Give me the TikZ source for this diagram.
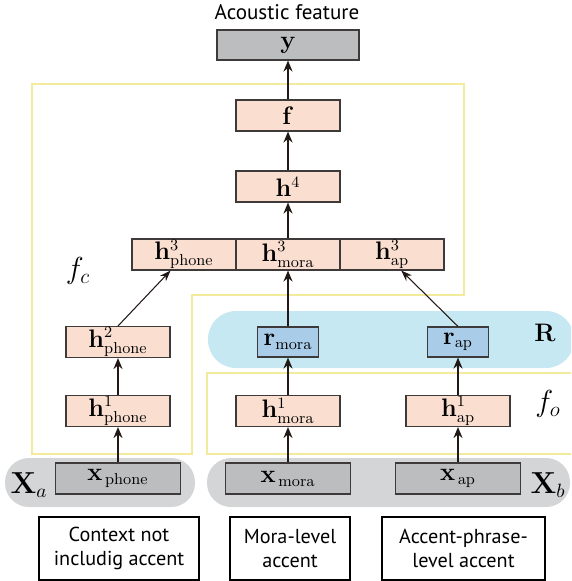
\documentclass[tikz,border=0pt]{standalone}
\usepackage{amssymb}
\usepackage[no-math]{fontspec}
\usepackage{tikz}
\usepackage{xcolor}
\usetikzlibrary{
    arrows.meta,
    positioning
}
\newfontfamily\gothic{PT Sans}
\definecolor{pinkfill}{HTML}{FADFD0}
\definecolor{bluefill}{HTML}{A9CDE9}
\definecolor{regionblue}{HTML}{C6E8F2}
\definecolor{regiongray}{HTML}{D4D5D7}
\definecolor{xgray}{HTML}{BCBDBF}
\definecolor{fyellow}{HTML}{F2EB9B}
\definecolor{boxline}{HTML}{3E3A39}
\definecolor{arrowline}{HTML}{231815}

\begin{document}
\begin{tikzpicture}[x=0.02cm, y=-0.02cm,
    every node/.style={font=\fontsize{13.5}{16}\selectfont, inner sep=0pt},
    pinkbox/.style={draw=boxline, fill=pinkfill, line width=0.6pt, minimum width=2.08cm, minimum height=0.62cm},
    bluebox/.style={draw=boxline, fill=bluefill, line width=0.6pt, minimum width=1.22cm, minimum height=0.6cm},
    graybox/.style={draw=boxline, fill=xgray, line width=0.6pt, minimum width=2.5cm, minimum height=0.62cm},
    textbox/.style={draw=black, line width=0.6pt, minimum height=1.26cm, align=center,
        font=\gothic\fontsize{11.5}{14}\selectfont},
    uparrow/.style={draw=arrowline, line width=1.4pt, -{Stealth[length=0.22cm, width=0.18cm]}},
    thinarrow/.style={draw=arrowline, line width=0.6pt, -{Stealth[length=0.22cm, width=0.16cm]}},
    yline/.style={draw=fyellow, line width=1.2pt}
]
                        \useasboundingbox (0,0) rectangle (571,581);

                        % regions behind the layers
                        \draw[yline] (32,84) -- (464,84) -- (464,295) -- (192,295) -- (192,454) -- (32,454) -- cycle;
                        \begin{scope}
                            \clip (0,0) rectangle (571,581);
                            \fill[regionblue, rounded corners=0.56cm] (208,311) rectangle (574,368);
                            \draw[yline] (207,373) rectangle (600,454);
                        \end{scope}
                        \fill[regiongray, rounded corners=0.48cm] (5,458) rectangle (195,507);
                        \fill[regiongray, rounded corners=0.48cm] (207,458) rectangle (570,507);

                        % labels
                        \node[font=\gothic\fontsize{12}{14}\selectfont] (title) at (287,12) {Acoustic feature};
                        \node[font=\fontsize{17}{20}\selectfont] (fc) at (78,271) {$f_c$};
                        \node[font=\fontsize{17}{20}\selectfont] (fo) at (548,404) {$f_o$};
                        \node[font=\fontsize{15}{18}\selectfont] (R) at (545,333) {$\mathbf{R}$};
                        \node[font=\fontsize{16}{19}\selectfont] (Xa) at (29,485) {$\mathbf{X}_a$};
                        \node[font=\fontsize{16}{19}\selectfont] (Xb) at (548,485) {$\mathbf{X}_b$};

                        % layers
                        \node[graybox, minimum width=2.84cm, minimum height=0.6cm] (y) at (288,45) {$\mathbf{y}$};
                        \node[pinkbox] (f) at (288,115.5) {$\mathbf{f}$};
                        \node[pinkbox] (h4) at (288,186.5) {$\mathbf{h}^4$};
                        \node[pinkbox] (h3p) at (184,254.5) {$\mathbf{h}^3_{\mathrm{phone}}$};
                        \node[pinkbox] (h3m) at (288,254.5) {$\mathbf{h}^3_{\mathrm{mora}}$};
                        \node[pinkbox] (h3a) at (392,254.5) {$\mathbf{h}^3_{\mathrm{ap}}$};
                        \node[pinkbox] (h2p) at (118,342) {$\mathbf{h}^2_{\mathrm{phone}}$};
                        \node[bluebox] (rm) at (288,342) {$\mathbf{r}_{\mathrm{mora}}$};
                        \node[bluebox] (ra) at (458,342) {$\mathbf{r}_{\mathrm{ap}}$};
                        \node[pinkbox] (h1p) at (118,411) {$\mathbf{h}^1_{\mathrm{phone}}$};
                        \node[pinkbox] (h1m) at (288,411) {$\mathbf{h}^1_{\mathrm{mora}}$};
                        \node[pinkbox] (h1a) at (458,411) {$\mathbf{h}^1_{\mathrm{ap}}$};
                        \node[graybox] (xp) at (118,478.5) {$\mathbf{x}_{\,\mathrm{phone}}$};
                        \node[graybox] (xm) at (288,478.5) {$\mathbf{x}_{\,\mathrm{mora}}$};
                        \node[graybox] (xa) at (458,478.5) {$\mathbf{x}_{\,\mathrm{ap}}$};

                        % input descriptions
                        \node[textbox, minimum width=3.2cm] (ctx) at (119,548.5) {Context not\\includig accent};
                        \node[textbox, minimum width=2.4cm] (mora) at (290,548.5) {Mora-level\\accent};
                        \node[textbox, minimum width=3.26cm] (ap) at (463.5,548.5) {Accent-phrase-\\level accent};

                        \draw[uparrow] (f) -- (y);
                        \draw[uparrow] (h4) -- (f);
                        \draw[uparrow] (h3m) -- (h4);
                        \draw[uparrow] (rm) -- (h3m);
                        \draw[thinarrow] (h2p.north) -- (h3p.-130);
                        \draw[thinarrow] (ra.north) -- (h3a.-60);
                        \draw[uparrow] (h1p) -- (h2p);
                        \draw[uparrow] (h1m) -- (rm);
                        \draw[uparrow] (h1a) -- (ra);
                        \draw[uparrow] (xp) -- (h1p);
                        \draw[uparrow] (xm) -- (h1m);
                        \draw[uparrow] (xa) -- (h1a);
                    \end{tikzpicture}
\end{document}
